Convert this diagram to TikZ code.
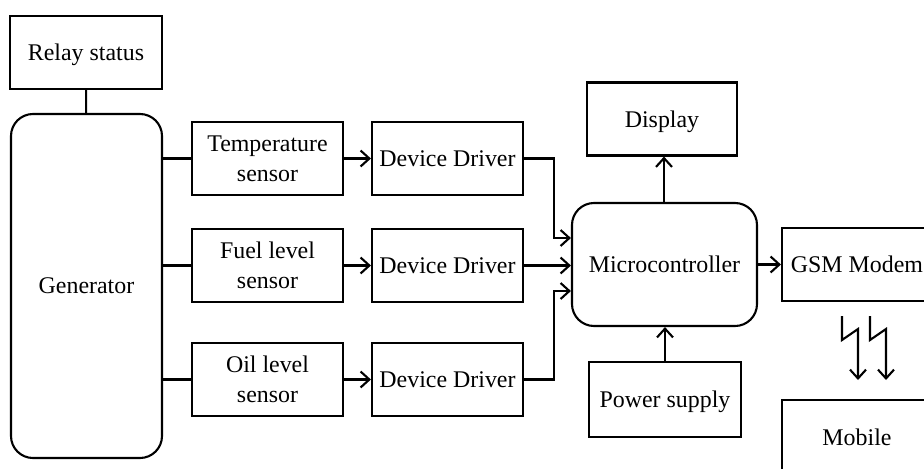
\documentclass[tikz,border=0pt]{standalone}
\usepackage{fontspec}
\setmainfont{Liberation Serif}
\usepackage{tikz}
\usetikzlibrary{arrows.meta, positioning, calc}
\usepackage{xcolor}
\definecolor{trait}{RGB}{0,0,0}

\tikzset{
  bloc/.style={draw=trait, line width=1.5pt, align=center,
               minimum width=37.75mm, minimum height=18.25mm,
               text depth=0pt,
               font=\fontsize{17}{19}\selectfont},
  arrondi/.style={bloc, rounded corners=5.5mm},
  liaison/.style={draw=trait, line width=1.5pt},
  fleche/.style={liaison, -{Straight Barb[length=2.2mm, width=4mm, line width=1.5pt]}}
}

\begin{document}
\begin{tikzpicture}[x=0.25mm, y=-0.25mm]

    \useasboundingbox (0,0) rectangle (924,468);
    \clip (0,0) rectangle (924,468);

    % Groupe et etat du relais
    \node[bloc, minimum width=38mm] (relais) at (86,52.5) {Relay status};
    \node[arrondi, minimum height=86mm] (gen) at (86.5,286) {Generator};
    \draw[liaison] (relais) -- (gen);

    % Capteurs
    \node[bloc] (temp)  at (267.5,158.5) {Temperature\\[2.5pt]sensor};
    \node[bloc] (fuel)  at (267.5,265.5) {Fuel level\\[2.5pt]sensor};
    \node[bloc] (huile) at (267.5,379.5) {Oil level\\[2.5pt]sensor};
    \foreach \c in {temp, fuel, huile} {
      \draw[liaison] (gen.east |- \c) -- (\c);
    }

    % Pilotes
    \node[bloc] (pil1) at (447.5,158.5) {Device Driver};
    \node[bloc] (pil2) at (447.5,265.5) {Device Driver};
    \node[bloc] (pil3) at (447.5,379.5) {Device Driver};
    \foreach \c/\p in {temp/pil1, fuel/pil2, huile/pil3} {
      \draw[fleche] (\c) -- (\p);
    }

    % Microcontroleur
    \node[arrondi, minimum width=46.25mm, minimum height=30.75mm]
      (micro) at (664.5,264.5) {Microcontroller};
    \draw[fleche] (pil1.east) -- ++(30,0) |- ($(micro.west)+(0,-26.5)$);
    \draw[fleche] (pil2.east) -- (micro.west |- pil2);
    \draw[fleche] (pil3.east) -- ++(30,0) |- ($(micro.west)+(0,26.5)$);

    % Affichage et alimentation
    \node[bloc, minimum width=37.5mm] (affich) at (662,119) {Display};
    \node[bloc, minimum width=38mm, minimum height=18.75mm]
      (alim) at (665,399.5) {Power supply};
    \draw[fleche] (micro.north -| 664,0) -- (affich.south -| 664,0);
    \draw[fleche] (alim.north -| 665,0) -- (micro.south -| 665,0);

    % Modem GSM et mobile
    \node[bloc, minimum width=37.5mm] (gsm) at (857,264.5) {GSM Modem};
    \node[bloc, minimum width=37.5mm, minimum height=18.75mm]
      (mobile) at (857,437.5) {Mobile};
    \draw[fleche] (micro) -- (gsm);

    % Liaison sans fil
    \coordinate (eclair1) at (842,316);
    \coordinate (eclair2) at (870,316);
    \foreach \e in {eclair1, eclair2} {
      \draw[fleche] (\e) -- ++(0,24) -- ++(16,-11) -- ++(0,51);
    }

\end{tikzpicture}
\end{document}
